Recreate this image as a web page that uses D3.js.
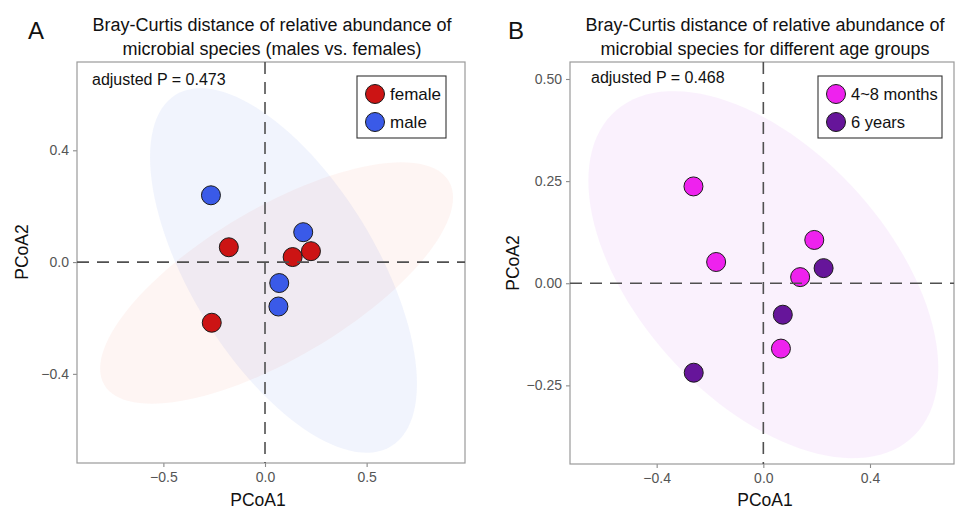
<!DOCTYPE html>
<html><head><meta charset="utf-8">
<script src="https://cdn.jsdelivr.net/npm/d3@7"></script>
<style>
body{margin:0;background:#fff;}
text{font-family:"Liberation Sans",Arial,Helvetica,sans-serif;}
</style></head>
<body><svg id="c" width="955" height="510"></svg>
<script>
// ---- data ----
const femaleX = [-0.178, 0.136, 0.226, -0.262];
const femaleY = [0.053, 0.018, 0.039, -0.217];
const maleX = [-0.266, 0.188, 0.070, 0.066];
const maleY = [0.239, 0.107, -0.075, -0.159];
const monthsX = [-0.262, -0.177, 0.191, 0.138, 0.066];
const monthsY = [0.237, 0.052, 0.106, 0.015, -0.160];
const yearsX = [0.226, 0.073, -0.261];
const yearsY = [0.037, -0.077, -0.219];
// ellipse stats: [centerX, centerY, varX, varY, covXY]
const ellipseFemale = [0.057, -0.075, 0.7537, 0.1865, 0.2655];
const ellipseMale = [0.091, -0.030, 0.4312, 0.4255, -0.2663];
const ellipseMonths = [0.0, 0.021, 0.4306, 0.2019, -0.1509];
const ticksAX = [-0.5, 0.0, 0.5];
const ticksAY = [-0.4, 0.0, 0.4];
const ticksBX = [-0.4, 0.0, 0.4];
const ticksBY = [-0.25, 0.0, 0.25, 0.50];
const domainAX = [-0.925, 0.984], domainAY = [-0.719, 0.716];
const domainBX = [-0.725, 0.715], domainBY = [-0.4425, 0.5416];

const svg = d3.select("#c");
const minus = s => s.replace("-", "\u2212");

function ellipsePts(e) {
  const [cx, cy, a, b, c] = e;
  const l11 = Math.sqrt(a), l21 = c / l11, l22 = Math.sqrt(b - l21 * l21);
  return d3.range(0, 361, 3).map(d => {
    const t = d * Math.PI / 180;
    return [cx + l11 * Math.cos(t), cy + l21 * Math.cos(t) + l22 * Math.sin(t)];
  });
}

function panel(o) {
  const g = svg.append("g");
  const x = d3.scaleLinear().domain(o.dx).range([o.x0, o.x1]);
  const y = d3.scaleLinear().domain(o.dy).range([o.y1, o.y0]);
  const line = d3.line().x(d => x(d[0])).y(d => y(d[1])).curve(d3.curveLinearClosed);
  o.ellipses.forEach(e => {
    g.append("path").attr("d", line(ellipsePts(e.stats)))
      .attr("fill", e.color).attr("fill-opacity", e.alpha).attr("stroke", "none");
  });
  // axes
  const ax = d3.axisBottom(x).tickValues(o.tx).tickSize(4).tickPadding(5).tickFormat(o.fx);
  const ay = d3.axisLeft(y).tickValues(o.ty).tickSize(4).tickPadding(4).tickFormat(o.fy);
  const gx = g.append("g").attr("transform", `translate(0,${o.y1})`).call(ax);
  const gy = g.append("g").attr("transform", `translate(${o.x0},0)`).call(ay);
  [gx, gy].forEach(a => {
    a.select(".domain").remove();
    a.selectAll("line").attr("stroke", "#8a8a8a").attr("stroke-width", 1.1);
    a.selectAll("text").attr("fill", "#555").style("font-size", "14px");
  });
  g.append("rect").attr("x", o.x0).attr("y", o.y0).attr("width", o.x1 - o.x0).attr("height", o.y1 - o.y0)
    .attr("fill", "none").attr("stroke", "#9a9a9a").attr("stroke-width", 1.2);
  // points
  o.groups.forEach(gr => {
    g.selectAll(null).data(d3.zip(gr.xs, gr.ys)).join("circle")
      .attr("cx", d => x(d[0])).attr("cy", d => y(d[1])).attr("r", 9.5)
      .attr("fill", gr.color).attr("stroke", "#1a1a1a").attr("stroke-width", 1);
  });
  // dashed zero lines
  g.append("line").attr("x1", x(0)).attr("x2", x(0)).attr("y1", o.y0).attr("y2", o.y1)
    .attr("stroke", "#505050").attr("stroke-width", 1.6).attr("stroke-dasharray", "12,8");
  g.append("line").attr("x1", o.x0).attr("x2", o.x1).attr("y1", y(0)).attr("y2", y(0))
    .attr("stroke", "#505050").attr("stroke-width", 1.6).attr("stroke-dasharray", "12,8");
  // p value
  g.append("text").attr("x", o.x0 + o.pdx).attr("y", o.py).text(o.ptext)
    .style("font-size", "16px").attr("fill", "#111");
  // legend
  const L = o.legend;
  g.append("rect").attr("x", L.x).attr("y", L.y).attr("width", L.w).attr("height", L.h)
    .attr("fill", "#fff").attr("stroke", "#333").attr("stroke-width", 1.1);
  o.groups.forEach((gr, i) => {
    const cy = L.y + 18 + i * 28;
    g.append("circle").attr("cx", L.x + 18).attr("cy", cy).attr("r", 9.5)
      .attr("fill", gr.color).attr("stroke", "#1a1a1a").attr("stroke-width", 1);
    g.append("text").attr("x", L.x + 33).attr("y", cy + 6).text(gr.name)
      .style("font-size", L.fs + "px").attr("fill", "#111");
  });
  // axis titles
  g.append("text").attr("x", o.xtx).attr("y", 506).attr("text-anchor", "middle")
    .style("font-size", "17.5px").attr("fill", "#111").text("PCoA1");
  g.append("text").attr("transform", `translate(${o.ytx},${o.yty}) rotate(-90)`).attr("text-anchor", "middle")
    .style("font-size", "17.5px").attr("fill", "#111").text("PCoA2");
  // title
  const t = g.append("text").attr("text-anchor", "middle").style("font-size", "18px").attr("fill", "#111");
  o.title.forEach((s, i) => t.append("tspan").attr("x", o.titleX).attr("y", 31 + i * 24).text(s));
  g.append("text").attr("x", o.letterX).attr("y", 39).style("font-size", "24px").attr("fill", "#111").text(o.letter);
}

panel({
  x0: 77, x1: 465, y0: 62, y1: 463, dx: domainAX, dy: domainAY,
  tx: ticksAX, ty: ticksAY, fx: d => minus(d3.format(".1f")(d)), fy: d => minus(d3.format(".1f")(d)),
  ellipses: [{stats: ellipseFemale, color: "#f0705a", alpha: 0.07}, {stats: ellipseMale, color: "#4f6fe8", alpha: 0.08}],
  groups: [{name: "female", xs: femaleX, ys: femaleY, color: "#cc1414"}, {name: "male", xs: maleX, ys: maleY, color: "#3a5ae8"}],
  pdx: 15, py: 85, ptext: "adjusted P = 0.473",
  legend: {x: 357, y: 76, w: 89, h: 62, fs: 17},
  xtx: 258, ytx: 28, yty: 252,
  title: ["Bray-Curtis distance of relative abundance of", "microbial species (males vs. females)"], titleX: 272,
  letter: "A", letterX: 28
});
panel({
  x0: 570, x1: 954, y0: 62, y1: 464, dx: domainBX, dy: domainBY,
  tx: ticksBX, ty: ticksBY, fx: d => minus(d3.format(".1f")(d)), fy: d => minus(d3.format(".2f")(d)),
  ellipses: [{stats: ellipseMonths, color: "#d27ef0", alpha: 0.11}],
  groups: [{name: "4~8 months", xs: monthsX, ys: monthsY, color: "#ee22ee"}, {name: "6 years", xs: yearsX, ys: yearsY, color: "#66159a"}],
  pdx: 21, py: 83, ptext: "adjusted P = 0.468",
  legend: {x: 818, y: 76, w: 124, h: 62, fs: 16.5},
  xtx: 765, ytx: 519, yty: 263,
  title: ["Bray-Curtis distance of relative abundance of", "microbial species for different age groups"], titleX: 765,
  letter: "B", letterX: 508
});
</script></body></html>
